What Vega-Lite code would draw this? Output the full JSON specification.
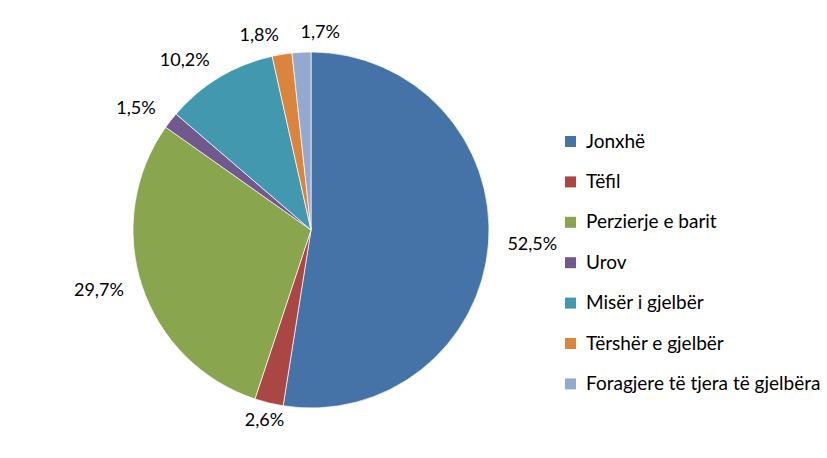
{
  "$schema": "https://vega.github.io/schema/vega-lite/v6.json",
  "autosize": "none",
  "width": 606,
  "height": 436,
  "padding": {"left": 8, "top": 12, "right": 213, "bottom": 10},
  "background": "white",
  "config": {"view": {"stroke": null}},
  "data": {
    "values": [
      {"cat": "Jonxhë", "value": 52.5, "label": "52,5%", "ord": 1},
      {"cat": "Tëfil", "value": 2.6, "label": "2,6%", "ord": 2},
      {"cat": "Perzierje e barit", "value": 29.7, "label": "29,7%", "ord": 3},
      {"cat": "Urov", "value": 1.5, "label": "1,5%", "ord": 4},
      {"cat": "Misër i gjelbër", "value": 10.2, "label": "10,2%", "ord": 5},
      {"cat": "Tërshër e gjelbër", "value": 1.8, "label": "1,8%", "ord": 6},
      {"cat": "Foragjere të tjera të gjelbëra", "value": 1.7, "label": "1,7%", "ord": 7}
    ]
  },
  "encoding": {
    "theta": {"field": "value", "type": "quantitative", "stack": true},
    "order": {"field": "ord", "type": "quantitative"}
  },
  "layer": [
    {
      "mark": {"type": "arc", "outerRadius": 178, "stroke": "white", "strokeWidth": 0.7},
      "encoding": {
        "color": {
          "field": "cat",
          "type": "nominal",
          "scale": {
            "domain": ["Jonxhë", "Tëfil", "Perzierje e barit", "Urov", "Misër i gjelbër", "Tërshër e gjelbër", "Foragjere të tjera të gjelbëra"],
            "range": ["#4572A7", "#AA4643", "#89A54E", "#71588F", "#4198AF", "#DB843D", "#93A9CF"]
          },
          "legend": {
            "title": null,
            "orient": "none",
            "legendX": 553,
            "legendY": 120,
            "symbolType": "square",
            "symbolSize": 121,
            "symbolStrokeWidth": 0,
            "labelFont": "Lato",
            "labelFontSize": 19,
            "labelColor": "#000000",
            "labelOffset": 6,
            "rowPadding": 20.4,
            "labelLimit": 400
          }
        }
      }
    },
    {
      "mark": {"type": "text", "radius": 197, "align": "right", "baseline": "middle", "font": "Lato", "fontSize": 18, "color": "#000000"},
      "encoding": {
        "text": {
          "condition": {"test": "indexof(['Perzierje e barit','Urov','Misër i gjelbër','Tërshër e gjelbër'], datum.cat) >= 0", "field": "label"},
          "value": ""
        }
      }
    },
    {
      "mark": {"type": "text", "radius": 197, "align": "left", "baseline": "middle", "font": "Lato", "fontSize": 18, "color": "#000000"},
      "encoding": {
        "text": {
          "condition": {"test": "indexof(['Jonxhë','Foragjere të tjera të gjelbëra'], datum.cat) >= 0", "field": "label"},
          "value": ""
        }
      }
    },
    {
      "mark": {"type": "text", "radius": 197, "align": "center", "baseline": "middle", "font": "Lato", "fontSize": 18, "color": "#000000"},
      "encoding": {
        "text": {
          "condition": {"test": "datum.cat === 'Tëfil'", "field": "label"},
          "value": ""
        }
      }
    }
  ]
}
